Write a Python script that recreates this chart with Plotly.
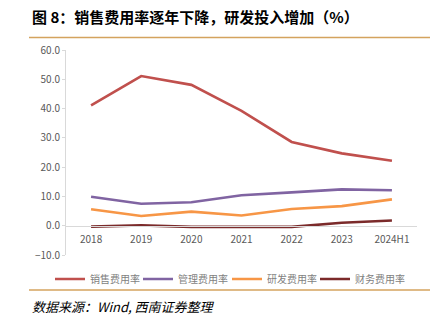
import plotly.graph_objects as go

categories = ["2018", "2019", "2020", "2021", "2022", "2023", "2024H1"]
sales_rate = [41.1, 51.1, 48.1, 39.2, 28.6, 24.7, 22.2]
mgmt_rate = [9.9, 7.5, 8.0, 10.4, 11.4, 12.4, 12.1]
rd_rate = [5.6, 3.3, 4.8, 3.5, 5.7, 6.7, 9.0]
fin_rate = [-0.3, 0.1, -0.4, -0.5, -0.4, 1.0, 1.8]

series_names = ["销售费用率", "管理费用率", "研发费用率", "财务费用率"]
series_values = [sales_rate, mgmt_rate, rd_rate, fin_rate]
colors = ["#C0504D", "#8064A2", "#F79646", "#7B2A2A"]

y_ticks = [-10, 0, 10, 20, 30, 40, 50, 60]

font_cjk = "Noto Sans CJK SC"

W, H = 442, 325
L, R, T, B = 66, 25, 50, 70
PW, PH = W - L - R, H - T - B

def px_x(x):
    return (x - L) / PW

def px_y(y):
    return (H - B - y) / PH

legend_ids = ["legend", "legend2", "legend3", "legend4"]
legend_x_px = [58, 146, 235, 323]

fig = go.Figure()
for name, vals, col, lid in zip(series_names, series_values, colors, legend_ids):
    fig.add_trace(go.Scatter(x=categories, y=vals, name=name, mode="lines",
                             line=dict(color=col, width=2.6), legend=lid))

legend_layouts = {}
for lid, lx in zip(legend_ids, legend_x_px):
    legend_layouts[lid] = dict(orientation="h", x=(lx - 8) / W, xanchor="left", xref="container",
                               y=(H - 279) / H, yref="container", yanchor="middle",
                               font=dict(size=10, color="#7F7F7F"), itemwidth=30,
                               bgcolor="rgba(0,0,0,0)")

ymin, ymax = -10, 60
fig.update_layout(
    width=W, height=H,
    margin=dict(l=L, r=R, t=T, b=B, autoexpand=False),
    paper_bgcolor="white", plot_bgcolor="white",
    font=dict(family=font_cjk, size=10, color="#595959"),
    showlegend=True,
    xaxis=dict(type="category", anchor="free", position=(0 - ymin) / (ymax - ymin),
               showline=True, linecolor="#D9D9D9", linewidth=1,
               showgrid=False, ticks="", tickfont=dict(size=10, color="#595959"),
               ticklabelstandoff=4, range=[-0.5, 6.5]),
    yaxis=dict(range=[ymin, ymax], tickvals=y_ticks, tickformat=".1f",
               showline=True, linecolor="#D9D9D9", linewidth=1,
               showgrid=False, zeroline=False, ticks="outside", ticklen=3,
               tickcolor="#D9D9D9", tickfont=dict(size=10, color="#595959")),
    **legend_layouts,
)

fig.add_annotation(text="<b>图 8：销售费用率逐年下降，研发投入增加（%）</b>",
                   xref="paper", yref="paper", x=px_x(30), y=px_y(16), showarrow=False,
                   xanchor="left", yanchor="middle",
                   font=dict(size=15, color="black", family=font_cjk))
fig.add_annotation(text="<i>数据来源：Wind, 西南证券整理</i>",
                   xref="paper", yref="paper", x=px_x(30), y=px_y(306), showarrow=False,
                   xanchor="left", yanchor="middle",
                   font=dict(size=13, color="black", family=font_cjk))

for yy in (37.5, 290):
    fig.add_shape(type="line", xref="paper", yref="paper", x0=px_x(29), x1=px_x(430),
                  y0=px_y(yy), y1=px_y(yy), line=dict(color="#D4A35E", width=1.5))

fig.write_html("out.html")
